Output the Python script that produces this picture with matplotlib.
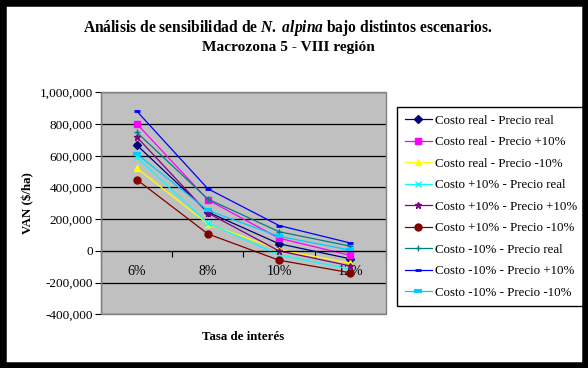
import numpy as np
import matplotlib
matplotlib.use('Agg')
import matplotlib.pyplot as plt
from matplotlib.patches import Rectangle
from matplotlib.ticker import FuncFormatter, FixedLocator

plt.rcParams.update({
    'font.family': 'Liberation Serif',
    'mathtext.fontset': 'custom',
    'mathtext.it': 'Liberation Serif:italic:bold',
    'mathtext.rm': 'Liberation Serif:bold',
})

# Data
tasas = ['6%', '8%', '10%', '12%']
costo_real_precio_real = [668000, 245000, 45000, -50000]
costo_real_precio_mas10 = [802000, 322000, 80000, -28000]
costo_real_precio_menos10 = [522000, 170000, 8000, -78000]
costo_mas10_precio_real = [590000, 176000, -25000, -115000]
costo_mas10_precio_mas10 = [719000, 239000, 0, -95000]
costo_mas10_precio_menos10 = [450000, 107000, -59000, -138000]
costo_menos10_precio_real = [748000, 327000, 121000, 30000]
costo_menos10_precio_mas10 = [882000, 392000, 160000, 50000]
costo_menos10_precio_menos10 = [612000, 255000, 92000, 5000]

series = [
    ('Costo real - Precio real', costo_real_precio_real, '#000080', 'D', 4, 1),
    ('Costo real - Precio +10%', costo_real_precio_mas10, '#FF00FF', 's', 5, 1),
    ('Costo real - Precio -10%', costo_real_precio_menos10, '#FFFF00', '^', 5, 1),
    ('Costo +10% - Precio real', costo_mas10_precio_real, '#00FFFF', 'x', 4, 1),
    ('Costo +10% - Precio +10%', costo_mas10_precio_mas10, '#800080', '*', 5, 1),
    ('Costo +10% - Precio -10%', costo_mas10_precio_menos10, '#800000', 'o', 5, 1),
    ('Costo -10% - Precio real', costo_menos10_precio_real, '#008080', '+', 5, 1),
    ('Costo -10% - Precio +10%', costo_menos10_precio_mas10, '#0000FF', '_', 4, 2),
    ('Costo -10% - Precio -10%', costo_menos10_precio_menos10, '#00CCFF', '_', 6, 3),
]

fig = plt.figure(figsize=(5.88, 3.68), dpi=100)
ax = fig.add_axes([0.172, 0.146, 0.484, 0.603])
ax.set_facecolor('#C0C0C0')

x = np.arange(len(tasas))
for label, vals, color, mk, ms, mew in series:
    ax.plot(x, vals, color=color, lw=0.9, marker=mk, markersize=ms,
            markeredgewidth=mew, markeredgecolor=color, markerfacecolor=color,
            label=label)

ax.set_xlim(-0.5, 3.5)
ax.set_ylim(-400000, 1000000)
ax.set_yticks(np.arange(-400000, 1000001, 200000))
ax.yaxis.set_major_formatter(FuncFormatter(lambda v, p: f'{int(v):,}'))
ax.grid(axis='y', color='black', lw=0.9)
ax.set_axisbelow(True)

# category axis crossing at zero
ax.spines['bottom'].set_position(('data', 0))
ax.spines['bottom'].set_color('black')
ax.spines['top'].set_visible(False)
ax.spines['right'].set_visible(False)
ax.spines['left'].set_color('black')
ax.xaxis.set_major_locator(FixedLocator([-0.5, 0.5, 1.5, 2.5, 3.5]))
ax.xaxis.set_minor_locator(FixedLocator(x))
ax.set_xticklabels([''] * 5)
ax.set_xticklabels(tasas, minor=True)
ax.tick_params(axis='x', which='major', direction='out', length=4, color='black')
ax.tick_params(axis='x', which='minor', length=0, pad=10, labelsize=10)
ax.tick_params(axis='y', direction='out', length=4, labelsize=9.5, pad=2)

# plot area border
ax.add_patch(Rectangle((0, 0), 1, 1, transform=ax.transAxes, fill=False,
                       edgecolor='#808080', lw=1, zorder=5, clip_on=False))

ax.set_ylabel(r'VAN (\$/ha)', fontsize=9.3, fontweight='bold')
ax.yaxis.set_label_coords(-0.235, 0.5)
fig.text(0.413, 1 - 337 / 368, 'Tasa de interés', fontsize=9.3, fontweight='bold',
         ha='center', va='center')

fig.text(0.489, 1 - 28 / 368,
         r'Análisis de sensibilidad de $N.\ alpina$ bajo distintos escenarios.',
         fontsize=11.2, fontweight='bold', ha='center', va='center')
fig.text(0.491, 1 - 47.5 / 368, 'Macrozona 5 - VIII región',
         fontsize=11.1, fontweight='bold', ha='center', va='center')

leg = fig.legend(loc='upper left', bbox_to_anchor=(0.675, 0.709), fontsize=9.3,
                 frameon=True, fancybox=False, edgecolor='black', framealpha=1,
                 handlelength=2.1, handletextpad=0.23, labelspacing=0.73,
                 borderpad=0.6, borderaxespad=0)
leg.get_frame().set_linewidth(1)

# outer black frame
frame = Rectangle((0, 0), 1, 1, transform=fig.transFigure, fill=False,
                  edgecolor='black', lw=9, zorder=100)
fig.patches.append(frame)

fig.savefig('out.png', dpi=100)
